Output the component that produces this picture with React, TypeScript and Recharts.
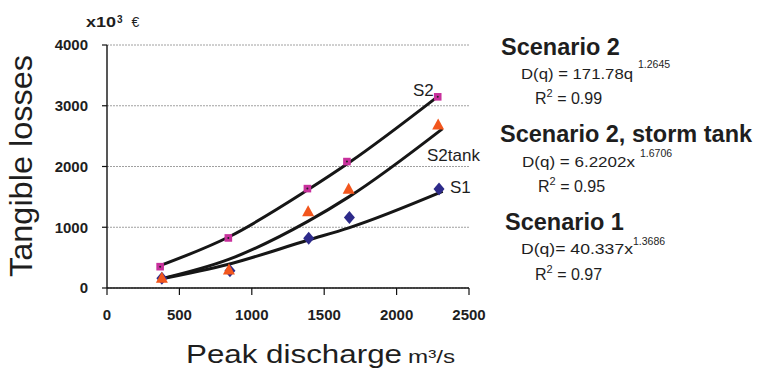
import { ComposedChart, Line, Scatter, XAxis, YAxis, CartesianGrid } from 'recharts';

// observed points (peak discharge m3/s, losses x10^3 EUR)
const s2Q = [367, 838, 1384, 1657, 2284];
const s2Loss = [351, 824, 1636, 2081, 3147];
const tankQ = [379, 842, 1389, 1669, 2287];
const tankLoss = [160, 297, 1257, 1626, 2685];
const s1Q = [379, 849, 1393, 1674, 2293];
const s1Loss = [160, 285, 819, 1159, 1631];

// trend curves
const s2TrendQ = [362, 840, 1390, 1670, 2284];
const s2TrendLoss = [365, 840, 1620, 2060, 3150];
const tankTrendQ = [355, 840, 1390, 1670, 2316];
const tankTrendLoss = [140, 470, 1100, 1500, 2620];
const s1TrendQ = [355, 840, 1390, 1670, 2318];
const s1TrendLoss = [140, 390, 790, 990, 1590];

const xTicks = [0, 500, 1000, 1500, 2000, 2500];
const yTicks = [0, 1000, 2000, 3000, 4000];

const zip = (q: number[], v: number[]) => q.map((x, i) => ({ q: x, loss: v[i] }));

const s2Pts = zip(s2Q, s2Loss);
const tankPts = zip(tankQ, tankLoss);
const s1Pts = zip(s1Q, s1Loss);
const s2Trend = zip(s2TrendQ, s2TrendLoss);
const tankTrend = zip(tankTrendQ, tankTrendLoss);
const s1Trend = zip(s1TrendQ, s1TrendLoss);

const FONT = '"Liberation Sans", Arial, Helvetica, sans-serif';
const INK = '#1e1e1e';

const Square = (p: any) => (
  <g>
    <rect x={p.cx - 3.8} y={p.cy - 3.8} width={7.6} height={7.6} fill="#c8309c" />
    <circle cx={p.cx} cy={p.cy} r={1} fill="#222" />
  </g>
);

const Triangle = (p: any) => (
  <path d={`M${p.cx},${p.cy - 6.5} L${p.cx + 6},${p.cy + 4.5} L${p.cx - 6},${p.cy + 4.5} Z`} fill="#f2561d" />
);

const Diamond = (p: any) => (
  <path d={`M${p.cx},${p.cy - 6.5} L${p.cx + 5.5},${p.cy} L${p.cx},${p.cy + 6.5} L${p.cx - 5.5},${p.cy} Z`} fill="#2d2a8a" />
);

function Notes() {
  return (
    <svg width={760} height={373} style={{ position: 'absolute', left: 0, top: 0, pointerEvents: 'none' }} fontFamily={FONT} fill={INK}>
      {/* unit */}
      <text x={86} y={27} fontSize={14} fontWeight="bold" textLength={30} lengthAdjust="spacingAndGlyphs">x10</text>
      <text x={117} y={22.5} fontSize={10} fontWeight="bold">3</text>
      <text x={131.5} y={27} fontSize={14}>€</text>

      {/* axis titles */}
      <text transform="translate(31.5,166) rotate(-90)" textAnchor="middle" fontSize={32} textLength={222} lengthAdjust="spacingAndGlyphs">Tangible losses</text>
      <text x={186} y={363} fontSize={26} textLength={216} lengthAdjust="spacingAndGlyphs">Peak discharge</text>
      <text x={408} y={363} fontSize={19} textLength={47} lengthAdjust="spacingAndGlyphs">m³/s</text>

      {/* curve tags */}
      <text x={413} y={96} fontSize={17}>S2</text>
      <text x={427} y={161} fontSize={17}>S2tank</text>
      <text x={450} y={193} fontSize={17}>S1</text>

      {/* fits */}
      <text x={501} y={55} fontSize={23.5} fontWeight="bold">Scenario 2</text>
      <text x={521} y={79} fontSize={15} textLength={112} lengthAdjust="spacingAndGlyphs">D(q) = 171.78q</text>
      <text x={638} y={68} fontSize={10.5}>1.2645</text>
      <text x={535} y={104} fontSize={16}>R<tspan dy={-7} fontSize={11}>2</tspan><tspan dy={7}> = 0.99</tspan></text>

      <text x={500} y={142} fontSize={23.5} fontWeight="bold">Scenario 2, storm tank</text>
      <text x={522} y={167} fontSize={15} textLength={113} lengthAdjust="spacingAndGlyphs">D(q) = 6.2202x</text>
      <text x={640} y={157} fontSize={10.5}>1.6706</text>
      <text x={538} y={192} fontSize={16}>R<tspan dy={-7} fontSize={11}>2</tspan><tspan dy={7}> = 0.95</tspan></text>

      <text x={505} y={230} fontSize={23.5} fontWeight="bold">Scenario 1</text>
      <text x={521} y={254} fontSize={15} textLength={112} lengthAdjust="spacingAndGlyphs">D(q)= 40.337x</text>
      <text x={633} y={245} fontSize={10.5}>1.3686</text>
      <text x={535} y={280} fontSize={16}>R<tspan dy={-7} fontSize={11}>2</tspan><tspan dy={7}> = 0.97</tspan></text>
    </svg>
  );
}

export default function App() {
  const tick = { fontFamily: FONT, fontSize: 15, fontWeight: 'bold', fill: INK };
  return (
    <div style={{ position: 'absolute', left: 0, top: 0, width: 760, height: 373, background: '#fff' }}>
      <ComposedChart width={760} height={373} margin={{ top: 45, right: 291, bottom: 55, left: 47 }}>
        <CartesianGrid vertical={false} stroke="#a0a0a0" strokeDasharray="2 1" />
        <XAxis
          type="number"
          dataKey="q"
          domain={[0, 2500]}
          ticks={xTicks}
          height={30}
          tickSize={7}
          tickMargin={14}
          tick={tick}
          axisLine={{ stroke: '#111', strokeWidth: 1.4 }}
          tickLine={{ stroke: '#111', strokeWidth: 1.2 }}
          allowDataOverflow
        />
        <YAxis
          type="number"
          dataKey="loss"
          domain={[0, 4000]}
          ticks={yTicks}
          width={60}
          tickSize={5}
          tickMargin={14}
          tick={tick}
          axisLine={{ stroke: '#111', strokeWidth: 1.4 }}
          tickLine={{ stroke: '#111', strokeWidth: 1.2 }}
        />
        <Line data={s2Trend} dataKey="loss" type="monotone" stroke="#161616" strokeWidth={3} dot={false} isAnimationActive={false} />
        <Line data={tankTrend} dataKey="loss" type="monotone" stroke="#161616" strokeWidth={3} dot={false} isAnimationActive={false} />
        <Line data={s1Trend} dataKey="loss" type="monotone" stroke="#161616" strokeWidth={3} dot={false} isAnimationActive={false} />
        <Scatter data={s1Pts} dataKey="loss" shape={Diamond} isAnimationActive={false} />
        <Scatter data={tankPts} dataKey="loss" shape={Triangle} isAnimationActive={false} />
        <Scatter data={s2Pts} dataKey="loss" shape={Square} isAnimationActive={false} />
      </ComposedChart>
      <Notes />
    </div>
  );
}
